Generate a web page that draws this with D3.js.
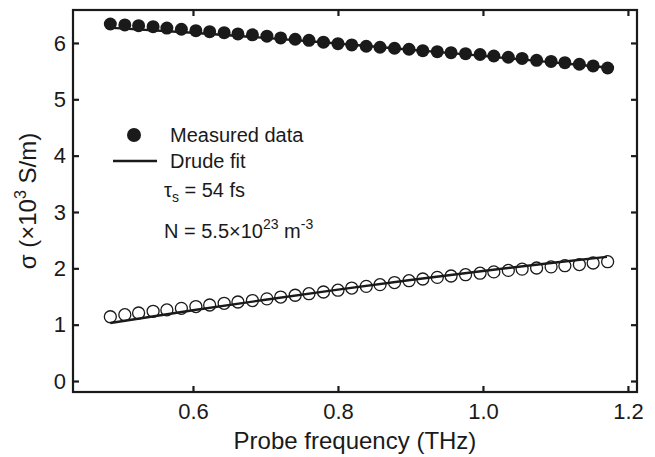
<!DOCTYPE html>
<html>
<head>
<meta charset="utf-8">
<script src="https://cdn.jsdelivr.net/npm/d3@7"></script>
<style>
  html, body { margin: 0; padding: 0; background: #fff; }
  svg { display: block; }
  text { font-family: "Liberation Sans", Arial, Helvetica, sans-serif; fill: #1a1a1a; }
</style>
</head>
<body>
<svg id="chart" width="655" height="457"></svg>
<script>
// ---- data ----
const freq = [0.486, 0.506, 0.525, 0.545, 0.564, 0.584, 0.604, 0.623, 0.643, 0.662,
              0.682, 0.702, 0.721, 0.741, 0.760, 0.780, 0.800, 0.819, 0.839, 0.858,
              0.878, 0.898, 0.917, 0.937, 0.956, 0.976, 0.996, 1.015, 1.035, 1.054,
              1.074, 1.094, 1.113, 1.133, 1.152, 1.172];
const sigmaReal = [6.337, 6.320, 6.307, 6.289, 6.265, 6.243, 6.218, 6.201, 6.183, 6.160,
                   6.145, 6.120, 6.090, 6.066, 6.046, 6.014, 5.988, 5.965, 5.942, 5.924,
                   5.906, 5.888, 5.863, 5.846, 5.828, 5.810, 5.795, 5.769, 5.746, 5.725,
                   5.692, 5.673, 5.650, 5.622, 5.592, 5.556];
const sigmaImag = [1.141, 1.177, 1.207, 1.237, 1.262, 1.290, 1.322, 1.349, 1.379, 1.402,
                   1.428, 1.458, 1.490, 1.522, 1.550, 1.580, 1.612, 1.650, 1.680, 1.710,
                   1.748, 1.780, 1.811, 1.839, 1.864, 1.887, 1.914, 1.937, 1.963, 1.986,
                   2.006, 2.026, 2.047, 2.067, 2.095, 2.118];
const fitFreq = [0.486, 0.6, 0.7, 0.8, 0.9, 1.0, 1.1, 1.171];
const fitReal = [6.270, 6.180, 6.090, 5.990, 5.880, 5.770, 5.650, 5.565];
const fitImag = [1.030, 1.255, 1.443, 1.623, 1.793, 1.953, 2.103, 2.203];
const xTicks = [0.6, 0.8, 1.0, 1.2];
const xTickLabels = ["0.6", "0.8", "1.0", "1.2"];
const yTicks = [0, 1, 2, 3, 4, 5, 6];

// ---- layout ----
const W = 655, H = 457;
const margin = { top: 10, right: 18, bottom: 65, left: 73 };
const iw = W - margin.left - margin.right;
const ih = H - margin.top - margin.bottom;

const svg = d3.select("#chart");
const g = svg.append("g").attr("transform", `translate(${margin.left},${margin.top})`);

const x = d3.scaleLinear().domain([0.4345, 1.2125]).range([0, iw]);
const y = d3.scaleLinear().domain([-0.195, 6.585]).range([ih, 0]);

const ink = "#1a1a1a";
const fsTick = 22;
const fsTitle = 24;
const fsLeg = 20;

// axes (inward ticks on all four sides)
const tl = 6;
const axB = g.append("g").attr("transform", `translate(0,${ih})`)
  .call(d3.axisBottom(x).tickValues(xTicks).tickFormat((d, i) => xTickLabels[i]).tickSizeInner(-tl).tickSizeOuter(0).tickPadding(11));
const axT = g.append("g")
  .call(d3.axisTop(x).tickValues(xTicks).tickFormat("").tickSizeInner(-tl).tickSizeOuter(0));
const axL = g.append("g")
  .call(d3.axisLeft(y).tickValues(yTicks).tickFormat(d3.format("d")).tickSizeInner(-tl).tickSizeOuter(0).tickPadding(7));
const axR = g.append("g").attr("transform", `translate(${iw},0)`)
  .call(d3.axisRight(y).tickValues(yTicks).tickFormat("").tickSizeInner(-tl).tickSizeOuter(0));

[axB, axT, axL, axR].forEach(a => {
  a.select(".domain").remove();
  a.selectAll(".tick line").attr("stroke", ink).attr("stroke-width", 2.2);
  a.selectAll(".tick text").attr("font-size", fsTick).attr("fill", ink)
    .style("font-family", '"Liberation Sans", Arial, sans-serif');
});

// frame
g.append("rect").attr("x", 0).attr("y", 0).attr("width", iw).attr("height", ih)
  .attr("fill", "none").attr("stroke", ink).attr("stroke-width", 2.2);

// fit lines
const line = d3.line().x(d => x(d[0])).y(d => y(d[1])).curve(d3.curveMonotoneX);
g.append("path").datum(fitFreq.map((f, i) => [f, fitReal[i]]))
  .attr("d", line).attr("fill", "none").attr("stroke", ink).attr("stroke-width", 2.4);
g.append("path").datum(fitFreq.map((f, i) => [f, fitImag[i]]))
  .attr("d", line).attr("fill", "none").attr("stroke", ink).attr("stroke-width", 2.4);

// measured data
g.append("g").selectAll("circle").data(freq.map((f, i) => [f, sigmaReal[i]])).join("circle")
  .attr("cx", d => x(d[0])).attr("cy", d => y(d[1])).attr("r", 6.5).attr("fill", ink);
g.append("g").selectAll("circle").data(freq.map((f, i) => [f, sigmaImag[i]])).join("circle")
  .attr("cx", d => x(d[0])).attr("cy", d => y(d[1])).attr("r", 6.0)
  .attr("fill", "none").attr("stroke", ink).attr("stroke-width", 1.3);

// legend
svg.append("circle").attr("cx", 134).attr("cy", 135).attr("r", 7).attr("fill", ink);
svg.append("text").attr("x", 170).attr("y", 142).attr("font-size", fsLeg).text("Measured data");
svg.append("line").attr("x1", 113).attr("x2", 157).attr("y1", 161).attr("y2", 161)
  .attr("stroke", ink).attr("stroke-width", 2.4);
svg.append("text").attr("x", 170).attr("y", 168).attr("font-size", fsLeg).text("Drude fit");

const t1 = svg.append("text").attr("x", 164).attr("y", 197).attr("font-size", fsLeg);
t1.append("tspan").text("τ");
t1.append("tspan").attr("dy", 5).attr("font-size", 14).text("s");
t1.append("tspan").attr("dy", -5).text(" = 54 fs");

const t2 = svg.append("text").attr("x", 164).attr("y", 238).attr("font-size", fsLeg);
t2.append("tspan").text("N = 5.5×10");
t2.append("tspan").attr("dy", -9).attr("font-size", 14).text("23");
t2.append("tspan").attr("dy", 9).text(" m");
t2.append("tspan").attr("dy", -9).attr("font-size", 14).text("-3");

// axis titles
svg.append("text").attr("x", 355).attr("y", 449)
  .attr("text-anchor", "middle").attr("font-size", fsTitle).text("Probe frequency (THz)");

const yl = svg.append("text").attr("font-size", fsTitle);
yl.append("tspan").text("σ (×10");
yl.append("tspan").attr("dy", -10).attr("font-size", 16).text("3");
yl.append("tspan").attr("dy", 10).text(" S/m)");
const ylLen = yl.node().getComputedTextLength();
yl.attr("transform", `translate(36,${201 + ylLen / 2}) rotate(-90)`);
</script>
</body>
</html>
